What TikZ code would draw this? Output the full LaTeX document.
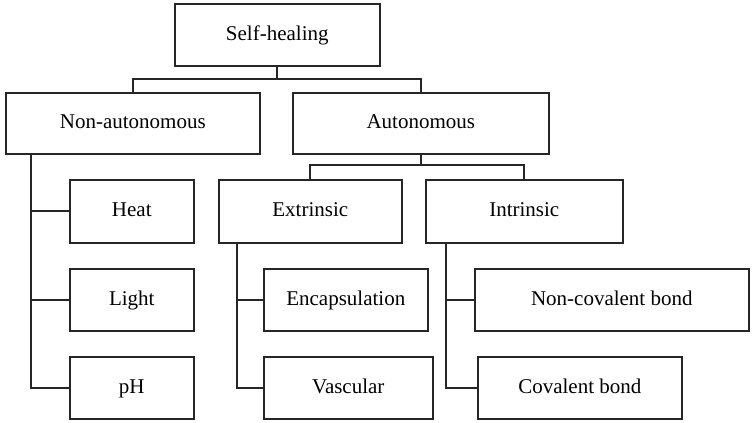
\documentclass[tikz,border=0pt]{standalone}
\usepackage{fontspec}
\setmainfont{Liberation Serif}
\begin{document}
\begin{tikzpicture}[x=1pt,y=-1pt,
  box/.style={draw=black!85,line width=1.6pt,rectangle,anchor=north west,inner sep=0pt,
    font=\fontsize{21}{24}\selectfont,text height=14pt,text depth=3pt},
  link/.style={draw=black!85,line width=1.8pt}]
\useasboundingbox (0,0) rectangle (753,423);
\node[box,minimum width=205pt,minimum height=62pt] (sh) at (174,3) {Self-healing};
\node[box,minimum width=254pt,minimum height=61pt] (na) at (5,92) {Non-autonomous};
\node[box,minimum width=256pt,minimum height=61pt] (au) at (292,92) {Autonomous};
\node[box,minimum width=124pt,minimum height=63pt] (heat) at (69,179) {Heat};
\node[box,minimum width=124pt,minimum height=62pt] (light) at (69,268) {Light};
\node[box,minimum width=124pt,minimum height=62pt] (ph) at (69,356) {pH};
\node[box,minimum width=183pt,minimum height=63pt] (ext) at (218,179) {Extrinsic};
\node[box,minimum width=197pt,minimum height=63pt] (int) at (425,179) {Intrinsic};
\node[box,minimum width=164pt,minimum height=62pt] (enc) at (263,268) {Encapsulation};
\node[box,minimum width=169pt,minimum height=62pt] (vas) at (263,356) {Vascular};
\node[box,minimum width=274pt,minimum height=62pt] (ncb) at (474,268) {Non-covalent bond};
\node[box,minimum width=204pt,minimum height=62pt] (cb) at (477,356) {Covalent bond};
% level 1
\coordinate (y1) at (0,79);
\draw[link] (sh.south) -- (sh.south |- y1);
\draw[link] (na.north) |- (sh.south |- y1) -| (au.north);
% autonomous
\coordinate (y2) at (0,165);
\draw[link] (au.south) -- (au.south |- y2);
\draw[link] (ext.north) |- (au.south |- y2) -| (int.north);
% non-autonomous
\coordinate (nav) at (31,153);
\draw[link] (nav) |- (ph.west);
\draw[link] (nav |- heat.west) -- (heat.west);
\draw[link] (nav |- light.west) -- (light.west);
% extrinsic
\coordinate (exv) at (237,242);
\draw[link] (exv) |- (vas.west);
\draw[link] (exv |- enc.west) -- (enc.west);
% intrinsic
\coordinate (inv) at (446,242);
\draw[link] (inv) |- (cb.west);
\draw[link] (inv |- ncb.west) -- (ncb.west);
\end{tikzpicture}
\end{document}
